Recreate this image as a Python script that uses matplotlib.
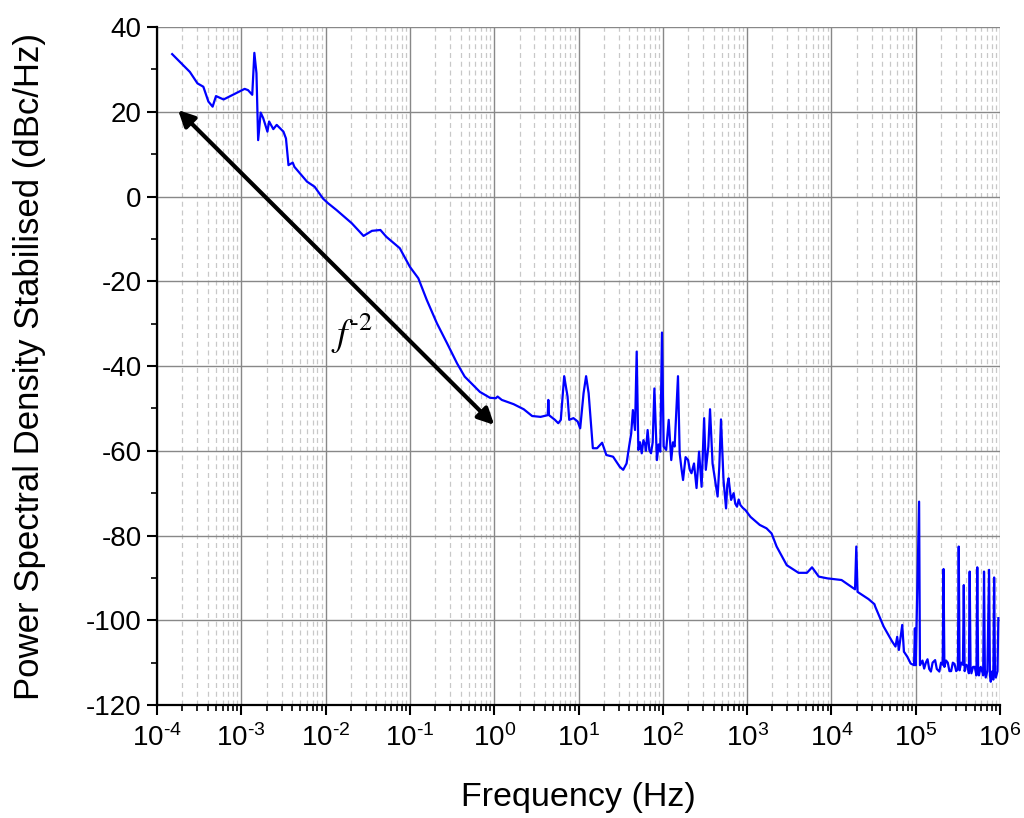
import numpy as np
import matplotlib
matplotlib.use("Agg")
import matplotlib.pyplot as plt
from matplotlib.ticker import LogLocator, MultipleLocator, NullFormatter, FuncFormatter

# log10 of frequency (Hz) and PSD (dBc/Hz)
log_f = [-3.82, -3.61, -3.52, -3.45, -3.39, -3.34, -3.30, -3.21, -2.96, -2.92,
         -2.87, -2.845, -2.82, -2.80, -2.77, -2.74, -2.69, -2.67, -2.62, -2.58,
         -2.50, -2.47, -2.44, -2.39, -2.37, -2.22, -2.13, -2.03, -1.97, -1.87,
         -1.69, -1.55, -1.45, -1.35, -1.28, -1.12, -1.00, -0.90, -0.80, -0.68,
         -0.56, -0.44, -0.35, -0.17, -0.05, 0.02, 0.04, 0.09, 0.23, 0.35,
         0.45, 0.55, 0.635, 0.642, 0.65, 0.72, 0.76, 0.79, 0.83, 0.87,
         0.89, 0.94, 0.99, 1.02, 1.06, 1.09, 1.12, 1.17, 1.22, 1.28,
         1.33, 1.41, 1.49, 1.53, 1.57, 1.60, 1.625, 1.645, 1.67, 1.69,
         1.71, 1.73, 1.75, 1.77, 1.79, 1.80, 1.82, 1.84, 1.86, 1.88,
         1.90, 1.93, 1.95, 1.97, 1.99, 2.01, 2.04, 2.07, 2.10, 2.12,
         2.14, 2.18, 2.20, 2.22, 2.24, 2.27, 2.30, 2.32, 2.34, 2.37,
         2.40, 2.43, 2.46, 2.49, 2.51, 2.54, 2.56, 2.59, 2.62, 2.65,
         2.67, 2.69, 2.72, 2.75, 2.765, 2.78, 2.81, 2.84, 2.86, 2.88,
         2.90, 2.92, 2.95, 2.98, 3.04, 3.15, 3.23, 3.29, 3.35, 3.47,
         3.61, 3.71, 3.77, 3.85, 3.95, 4.12, 4.28, 4.295, 4.31, 4.44,
         4.51, 4.52, 4.62, 4.72, 4.76, 4.78, 4.80, 4.84, 4.86, 4.90,
         4.94, 4.98, 4.99, 5.00, 5.04, 5.05, 5.08, 5.10, 5.12, 5.14,
         5.16, 5.18, 5.20, 5.23, 5.25, 5.28, 5.30, 5.32, 5.33, 5.34,
         5.36, 5.38, 5.40, 5.42, 5.44, 5.46, 5.48, 5.50, 5.51, 5.52,
         5.54, 5.56, 5.57, 5.58, 5.60, 5.62, 5.63, 5.64, 5.65, 5.66,
         5.68, 5.70, 5.72, 5.73, 5.74, 5.75, 5.77, 5.78, 5.80, 5.81,
         5.82, 5.83, 5.85, 5.87, 5.88, 5.89, 5.90, 5.91, 5.92, 5.93,
         5.94, 5.95, 5.97, 5.98]
psd = [33.6, 29.4, 26.7, 25.9, 22.4, 21.2, 23.7, 22.9, 25.4, 25.1,
       24.0, 33.9, 29.1, 13.3, 19.8, 18.5, 15.3, 17.7, 15.9, 16.9,
       15.3, 13.7, 7.4, 8.0, 7.0, 3.5, 2.3, -0.5, -1.6, -3.2,
       -6.3, -9.3, -8.1, -7.9, -9.5, -12.2, -16.6, -19.3, -24.4, -29.9,
       -34.6, -39.4, -42.5, -46.1, -47.5, -47.6, -47.2, -48.0, -49.0, -50.2,
       -51.8, -52.0, -51.6, -48.0, -51.6, -52.7, -53.5, -52.7, -42.4, -47.2,
       -52.7, -52.3, -53.1, -54.7, -46.4, -42.4, -46.4, -59.4, -59.4, -58.1,
       -61.0, -61.4, -63.8, -64.5, -63.0, -59.0, -55.9, -50.4, -55.1, -36.6,
       -59.8, -58.0, -60.6, -57.5, -58.6, -60.0, -55.1, -59.8, -60.6, -58.0,
       -45.3, -62.2, -58.5, -60.2, -32.1, -59.0, -59.8, -52.7, -62.2, -58.0,
       -59.0, -42.4, -60.6, -64.0, -66.9, -61.5, -62.2, -64.5, -65.3, -63.0,
       -68.8, -60.2, -68.5, -52.3, -64.5, -59.0, -50.2, -63.0, -66.9, -70.8,
       -63.7, -52.6, -66.9, -73.6, -68.0, -66.5, -71.6, -70.0, -72.5, -73.2,
       -71.5, -72.8, -73.5, -74.0, -75.6, -77.5, -78.3, -79.5, -82.6, -87.0,
       -88.8, -88.8, -87.5, -89.7, -90.1, -90.5, -92.7, -82.6, -93.3, -95.0,
       -96.2, -96.8, -101.5, -105.0, -106.2, -103.9, -107.0, -101.1, -107.4, -108.6,
       -110.2, -110.6, -101.9, -110.6, -72.0, -110.6, -109.5, -111.4, -110.0, -109.2,
       -111.5, -112.1, -110.0, -109.4, -111.5, -112.1, -110.0, -110.5, -87.9, -111.0,
       -109.5, -110.0, -112.0, -112.0, -110.0, -110.3, -112.0, -111.5, -82.6, -111.8,
       -110.0, -110.5, -91.7, -112.0, -110.5, -111.0, -112.5, -88.5, -110.8, -112.5,
       -111.0, -111.0, -113.0, -87.5, -111.5, -113.0, -111.0, -111.5, -113.0, -88.5,
       -111.5, -113.5, -112.0, -88.1, -113.0, -114.5, -113.0, -112.0, -114.0, -89.9,
       -112.0, -113.5, -112.0, -99.5]

freq = 10 ** np.array(log_f)

plt.rcParams['font.family'] = ['Liberation Sans', 'DejaVu Sans']
plt.rcParams['mathtext.fontset'] = 'custom'
plt.rcParams['mathtext.rm'] = 'Liberation Sans'
plt.rcParams['mathtext.default'] = 'regular'
plt.rcParams['axes.unicode_minus'] = False

fig = plt.figure(figsize=(10.24, 8.18), dpi=100)
ax = fig.add_axes([0.1533, 0.1381, 0.8233, 0.8289])

ax.plot(freq, psd, color='#0000ff', lw=1.6, zorder=3)

ax.set_xscale('log')
ax.set_xlim(1e-4, 1e6)
ax.set_ylim(-120, 40)
ax.xaxis.set_major_locator(LogLocator(base=10, numticks=20))
ax.xaxis.set_minor_locator(LogLocator(base=10, subs=np.arange(2, 10), numticks=200))
ax.xaxis.set_minor_formatter(NullFormatter())

HYPHEN = '\u2010'


def dec_label(v, pos):
    e = int(round(np.log10(v)))
    if e < 0:
        return '$10^{' + HYPHEN + str(abs(e)) + '}$'
    return '$10^{' + str(e) + '}$'


ax.xaxis.set_major_formatter(FuncFormatter(dec_label))
ax.yaxis.set_major_locator(MultipleLocator(20))
ax.yaxis.set_minor_locator(MultipleLocator(10))

ax.grid(True, which='major', axis='both', color='#888888', lw=1.0, ls='-')
ax.grid(True, which='minor', axis='x', color='#c8c8c8', lw=0.9, ls=(0, (4, 3)))
ax.set_axisbelow(True)

for s in ['top', 'right']:
    ax.spines[s].set_visible(False)
for s in ['left', 'bottom']:
    ax.spines[s].set_linewidth(1.6)
ax.tick_params(which='major', direction='out', length=7, width=1.5, labelsize=20)
ax.tick_params(axis='x', which='major', pad=7)
ax.tick_params(axis='y', which='major', pad=4)
ax.tick_params(which='minor', direction='out', length=4, width=1.2)

ax.set_xlabel('Frequency (Hz)', fontsize=24.5, va='center')
ax.xaxis.set_label_coords(0.5, -0.1357)
ax.set_ylabel('Power Spectral Density Stabilised (dBc/Hz)', fontsize=25, va='center')
ax.yaxis.set_label_coords(-0.1507, 0.5)

# f^-2 guide arrow
ax.annotate('', xy=(1.78e-4, 20.4), xytext=(1.0, -53.9),
            arrowprops=dict(arrowstyle='<|-|>', color='black', lw=3,
                            mutation_scale=24, shrinkA=0, shrinkB=0))
ax.text(0.0205, -32.3, '$\\mathit{f}^{\\mathrm{' + HYPHEN + '2}}$',
        math_fontfamily='stix', fontsize=27, ha='center', va='center')

fig.savefig('out.png', dpi=100)
